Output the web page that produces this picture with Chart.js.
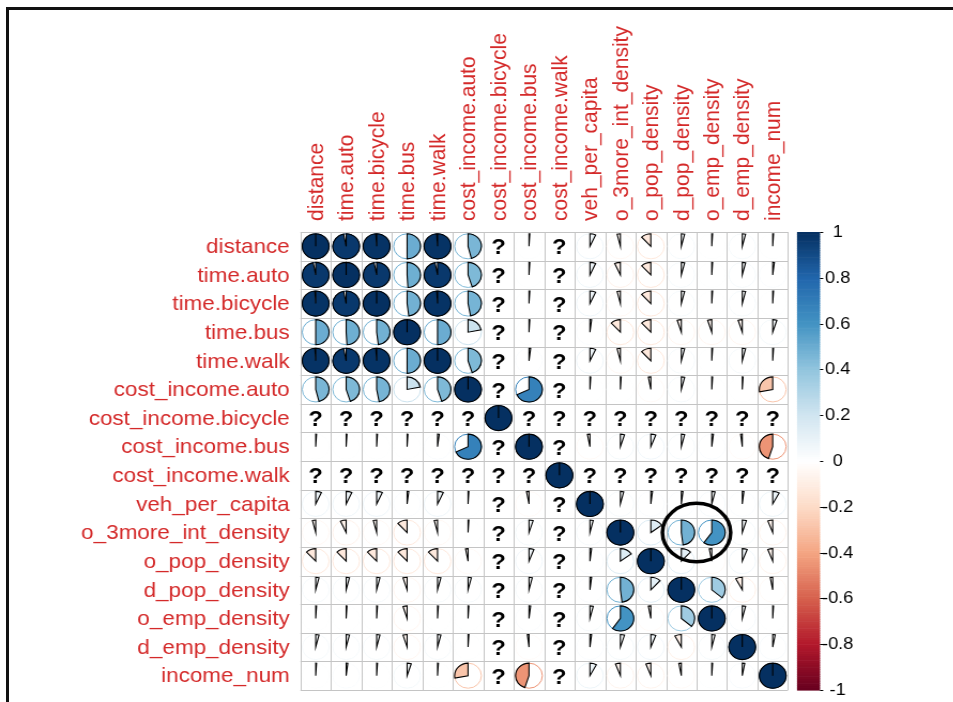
<!DOCTYPE html>
<html>
<head>
<meta charset="utf-8">
<script src="https://cdn.jsdelivr.net/npm/chart.js@4.4.1/dist/chart.umd.min.js"></script>
<style>
  html, body { margin: 0; padding: 0; background: #fff; overflow: hidden; width: 953px; height: 702px; }
  #frame { position: absolute; left: 6px; top: 7px; width: 980px; height: 720px; border-left: 3px solid #111; border-top: 3px solid #111; }
  /* the reference picture is a bit wider than tall, so stretch the whole chart */
  #wrap { position: absolute; left: 0; top: 0; width: 891px; height: 702px; transform: scaleX(1.07); transform-origin: 0 0; }
</style>
</head>
<body>
<div id="frame"></div>
<div id="wrap"><canvas id="c" width="891" height="702"></canvas></div>
<script>
// variables (rows and columns are the same)
var vars = ["distance", "time.auto", "time.bicycle", "time.bus", "time.walk",
  "cost_income.auto", "cost_income.bicycle", "cost_income.bus", "cost_income.walk",
  "veh_per_capita", "o_3more_int_density", "o_pop_density", "d_pop_density",
  "o_emp_density", "d_emp_density", "income_num"];

// correlation matrix, null = NA (drawn as "?")
var corr = [
  [1, 0.97, 0.99, 0.50, 0.99, 0.46, null, 0.01, null, 0.07, -0.04, -0.12, 0.04, 0.01, 0.04, 0.01],
  [0.97, 1, 0.97, 0.49, 0.97, 0.45, null, 0.01, null, 0.07, -0.07, -0.12, 0.04, 0.01, 0.04, 0.02],
  [0.99, 0.97, 1, 0.48, 0.99, 0.47, null, 0.01, null, 0.07, -0.04, -0.12, 0.04, 0.01, 0.04, 0.01],
  [0.50, 0.49, 0.48, 1, 0.50, 0.22, null, 0.01, null, 0.02, -0.12, -0.12, -0.05, -0.05, -0.05, 0.05],
  [0.99, 0.97, 0.99, 0.50, 1, 0.45, null, 0.02, null, 0.07, -0.04, -0.12, 0.04, 0.01, 0.04, 0.01],
  [0.46, 0.45, 0.47, 0.22, 0.45, 1, null, 0.68, null, 0.01, 0.01, -0.03, 0.04, 0.01, 0.01, -0.28],
  [null, null, null, null, null, null, 1, null, null, null, null, null, null, null, null, null],
  [0.01, 0.01, 0.01, 0.01, 0.02, 0.68, null, 1, null, -0.03, 0.05, 0.06, 0.04, 0.02, -0.02, -0.45],
  [null, null, null, null, null, null, null, null, 1, null, null, null, null, null, null, null],
  [0.07, 0.07, 0.07, 0.02, 0.07, 0.01, null, -0.03, null, 1, 0.04, 0.02, 0.02, 0.04, 0.02, 0.08],
  [-0.04, -0.07, -0.04, -0.12, -0.04, 0.01, null, 0.05, null, 0.04, 1, 0.15, 0.48, 0.60, 0.05, -0.06],
  [-0.12, -0.12, -0.12, -0.12, -0.12, -0.03, null, 0.06, null, 0.02, 0.15, 1, 0.12, -0.03, 0.06, -0.06],
  [0.04, 0.04, 0.04, -0.05, 0.04, 0.04, null, 0.04, null, 0.02, 0.48, 0.12, 1, 0.36, -0.08, -0.03],
  [0.01, 0.01, 0.01, -0.05, 0.01, 0.01, null, 0.02, null, 0.04, 0.60, -0.03, 0.36, 1, 0.04, 0.01],
  [0.04, 0.04, 0.04, -0.05, 0.04, 0.01, null, -0.02, null, 0.02, 0.05, 0.06, -0.08, 0.04, 1, 0.03],
  [0.01, 0.02, 0.01, 0.05, 0.01, -0.28, null, -0.45, null, 0.08, -0.06, -0.06, -0.03, 0.01, 0.03, 1]
];

// colour legend ticks
var cbTicks = [1, 0.8, 0.6, 0.4, 0.2, 0, -0.2, -0.4, -0.6, -0.8, -1];

// RdBu palette, -1 .. 1
var palette = ["#67001F", "#B2182B", "#D6604D", "#F4A582", "#FDDBC7", "#FFFFFF",
  "#D1E5F0", "#92C5DE", "#4393C3", "#2166AC", "#053061"];

// circled cells: row, then the two columns
var highlight = ["o_3more_int_density", "d_pop_density", "o_emp_density"];

var labelRed = "#d42a2a";
var font = "'Liberation Sans', Arial, sans-serif";

function hexRgb(h) {
  return [parseInt(h.substr(1, 2), 16), parseInt(h.substr(3, 2), 16), parseInt(h.substr(5, 2), 16)];
}
function corrColor(v) {
  var t = (v + 1) / 2 * (palette.length - 1);
  var i = Math.min(Math.floor(t), palette.length - 2);
  var f = t - i;
  var a = hexRgb(palette[i]), b = hexRgb(palette[i + 1]);
  return "rgb(" + Math.round(a[0] + (b[0] - a[0]) * f) + "," +
    Math.round(a[1] + (b[1] - a[1]) * f) + "," + Math.round(a[2] + (b[2] - a[2]) * f) + ")";
}

var cells = [];
for (var r = 0; r < vars.length; r++) {
  for (var c = 0; c < vars.length; c++) {
    cells.push({ x: vars[c], y: vars[r], v: corr[r][c] });
  }
}

// grid, pies, "?" marks, labels, colour bar
var piePlugin = {
  id: "pies",
  beforeDatasetsDraw: function (chart) {
    var ctx = chart.ctx, xs = chart.scales.x, ys = chart.scales.y;
    var cw = xs.getPixelForValue(1) - xs.getPixelForValue(0);
    var ch = ys.getPixelForValue(1) - ys.getPixelForValue(0);
    var n = vars.length;
    var left = xs.getPixelForValue(0) - cw / 2, right = xs.getPixelForValue(n - 1) + cw / 2;
    var top = ys.getPixelForValue(0) - ch / 2, bottom = ys.getPixelForValue(n - 1) + ch / 2;
    ctx.save();
    ctx.strokeStyle = "#c4c4c4";
    ctx.lineWidth = 1;
    ctx.beginPath();
    for (var i = 0; i <= n; i++) {
      var x = Math.round(left + i * cw) + 0.5;
      ctx.moveTo(x, top); ctx.lineTo(x, bottom);
      var y = Math.round(top + i * ch) + 0.5;
      ctx.moveTo(left, y); ctx.lineTo(right, y);
    }
    ctx.stroke();
    ctx.restore();
  },
  afterDatasetsDraw: function (chart) {
    var ctx = chart.ctx, xs = chart.scales.x;
    var cw = xs.getPixelForValue(1) - xs.getPixelForValue(0);
    var rad = cw * 0.44;
    var meta = chart.getDatasetMeta(0);
    ctx.save();
    meta.data.forEach(function (pt, i) {
      var v = cells[i].v;
      if (v === null) {
        ctx.fillStyle = "#000";
        ctx.font = "bold 22px " + font;
        ctx.textAlign = "center";
        ctx.textBaseline = "middle";
        ctx.fillText("?", pt.x, pt.y + 2);
        return;
      }
      var col = corrColor(v);
      ctx.beginPath();
      ctx.arc(pt.x, pt.y, rad, 0, Math.PI * 2);
      ctx.strokeStyle = col;
      ctx.lineWidth = 1;
      ctx.stroke();
      var start = -Math.PI / 2;
      ctx.beginPath();
      ctx.moveTo(pt.x, pt.y);
      ctx.arc(pt.x, pt.y, rad, start, start + v * Math.PI * 2, v < 0);
      ctx.closePath();
      ctx.fillStyle = col;
      ctx.fill();
      ctx.strokeStyle = "#000";
      ctx.lineWidth = 1.1;
      ctx.stroke();
    });
    ctx.restore();
  },
  afterDraw: function (chart) {
    var ctx = chart.ctx, xs = chart.scales.x, ys = chart.scales.y, cb = chart.scales.cb;
    var area = chart.chartArea;
    var cw = xs.getPixelForValue(1) - xs.getPixelForValue(0);
    var ch = ys.getPixelForValue(1) - ys.getPixelForValue(0);
    ctx.save();
    // row and column names
    ctx.fillStyle = labelRed;
    ctx.font = "21px " + font;
    ctx.textBaseline = "middle";
    vars.forEach(function (name, i) {
      ctx.textAlign = "right";
      ctx.fillText(name, area.left - 10, ys.getPixelForValue(i) + 1);
      ctx.save();
      ctx.translate(xs.getPixelForValue(i) + 1, area.top - 11);
      ctx.rotate(-Math.PI / 2);
      ctx.textAlign = "left";
      ctx.fillText(name, 0, 0);
      ctx.restore();
    });
    // colour bar
    var x0 = area.right + 8.5, w = 21.5;
    for (var k = 0; k < 200; k++) {
      var v0 = -1 + k * 0.01;
      var ya = cb.getPixelForValue(v0 + 0.01), yb = cb.getPixelForValue(v0);
      ctx.fillStyle = corrColor(v0 + 0.005);
      ctx.fillRect(x0, ya, w, yb - ya + 0.6);
    }
    ctx.strokeStyle = "#000";
    ctx.lineWidth = 1;
    ctx.fillStyle = "#000";
    ctx.font = "17px " + font;
    ctx.textAlign = "center";
    cbTicks.forEach(function (t) {
      var y = Math.round(cb.getPixelForValue(t)) + 0.5;
      ctx.beginPath();
      ctx.moveTo(x0 + w, y); ctx.lineTo(x0 + w + 3, y);
      ctx.stroke();
      ctx.fillText(String(t), x0 + w + 16.5, y);
    });
    // circled cells
    var cx = (xs.getPixelForValue(vars.indexOf(highlight[1])) + xs.getPixelForValue(vars.indexOf(highlight[2]))) / 2;
    var cy = ys.getPixelForValue(vars.indexOf(highlight[0]));
    ctx.beginPath();
    ctx.ellipse(cx, cy, cw * 1.12, ch * 1.02, 0, 0, Math.PI * 2);
    ctx.lineWidth = 3.5;
    ctx.strokeStyle = "#000";
    ctx.stroke();
    ctx.restore();
  }
};

var ctx = document.getElementById("c").getContext("2d");
var chart = new Chart(ctx, {
  type: "scatter",
  data: {
    datasets: [{
      data: cells,
      pointRadius: 0,
      pointHoverRadius: 0
    }]
  },
  options: {
    responsive: false,
    animation: false,
    devicePixelRatio: 1,
    events: [],
    layout: { padding: { left: 0, top: 0, right: 154.6, bottom: 12 } },
    plugins: { legend: { display: false }, tooltip: { enabled: false } },
    scales: {
      x: {
        type: "category",
        labels: vars,
        position: "top",
        offset: true,
        grid: { display: false },
        border: { display: false },
        ticks: { display: false },
        afterFit: function (scale) { scale.height = 232; }
      },
      y: {
        type: "category",
        labels: vars,
        offset: true,
        grid: { display: false },
        border: { display: false },
        ticks: { display: false },
        afterFit: function (scale) { scale.width = 280.8; }
      },
      cb: {
        type: "linear",
        position: "right",
        display: false,
        min: -1,
        max: 1
      }
    }
  },
  plugins: [piePlugin]
});
</script>
</body>
</html>
